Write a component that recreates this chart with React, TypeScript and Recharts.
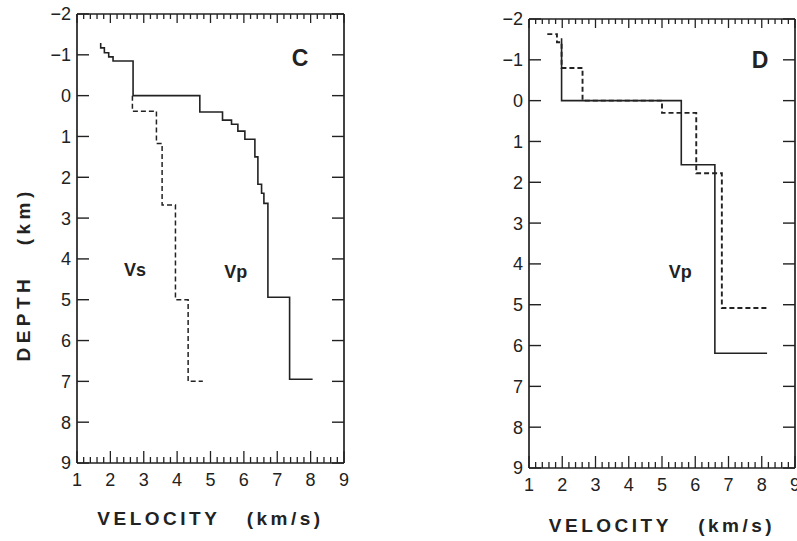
import React from 'react';
import { LineChart, Line, XAxis, YAxis, ReferenceDot } from 'recharts';

// ---- Panel C: layer boundaries (depth, km) and layer velocities (km/s) ----
const cVpBounds = [-1.29, -1.17, -1.05, -0.95, -0.85, 0, 0.4, 0.6, 0.7, 0.87, 1.07, 1.5, 2.17, 2.39, 2.64, 4.94, 6.95];
const cVpVel = [1.71, 1.82, 1.95, 2.08, 2.68, 4.68, 5.36, 5.63, 5.82, 6.03, 6.33, 6.42, 6.53, 6.6, 6.72, 7.37];
const cVpEnd = 8.06;

const cVsBounds = [0, 0.38, 1.17, 2.68, 5.0, 7.0];
const cVsVel = [2.66, 3.38, 3.55, 3.95, 4.33];
const cVsEnd = 4.77;

// ---- Panel D ----
const dSolidBounds = [-1.53, 0, 1.57, 6.19];
const dSolidVel = [1.98, 5.58, 6.59];
const dSolidEnd = 8.16;

const dDashBounds = [-1.63, -1.63, -1.43, -0.8, 0.0, 0.3, 1.78, 5.08];
const dDashVel = [1.55, 1.84, 1.98, 2.61, 5.0, 6.03, 6.8];
const dDashEnd = 8.16;

// ---- Axes ----
const xDomain = [1, 9];
const yDomain = [-2, 9];
const yTicks = [-2, -1, 0, 1, 2, 3, 4, 5, 6, 7, 8, 9];
const xTicks: number[] = [];
for (let i = 0; i <= 40; i++) xTicks.push(Math.round((1 + i * 0.2) * 10) / 10);

const xTitle = 'VELOCITY\u00A0\u00A0\u00A0(km/s)';
const yTitle = 'DEPTH\u00A0\u00A0\u00A0(km)';

const INK = '#222222';
const FONT = '"Liberation Sans", Arial, Helvetica, sans-serif';

function profile(bounds: number[], vel: number[], endV: number) {
  const pts: { v: number; d: number }[] = [];
  vel.forEach((v, i) => {
    pts.push({ v, d: bounds[i] });
    pts.push({ v, d: bounds[i + 1] });
  });
  pts.push({ v: endV, d: bounds[bounds.length - 1] });
  return pts;
}

const isMajor = (v: number) => Math.abs(v - Math.round(v)) < 1e-6;

const BottomTick = (p: any) => {
  const { x, y, payload } = p;
  const v = payload.value;
  const major = isMajor(v);
  return (
    <g>
      <line x1={x} x2={x} y1={y} y2={y - (major ? 12 : 6)} stroke={INK} strokeWidth={1.3} />
      {major && (
        <text x={x} y={y + 23} textAnchor="middle" fontSize={18} fill={INK} fontFamily={FONT}>
          {Math.round(v)}
        </text>
      )}
    </g>
  );
};

const TopTick = (p: any) => {
  const { x, y, payload } = p;
  const major = isMajor(payload.value);
  return <line x1={x} x2={x} y1={y} y2={y + (major ? 9 : 5)} stroke={INK} strokeWidth={1.3} />;
};

const LeftTick = (p: any) => {
  const { x, y, payload } = p;
  const v = payload.value;
  return (
    <g>
      <line x1={x} x2={x + 12} y1={y} y2={y} stroke={INK} strokeWidth={1.4} />
      <text x={x - 6} y={y} dy="0.36em" textAnchor="end" fontSize={18} fill={INK} fontFamily={FONT}>
        {v < 0 ? '\u2212' + Math.abs(v) : String(v)}
      </text>
    </g>
  );
};

const RightTick = (p: any) => {
  const { x, y } = p;
  return <line x1={x} x2={x - 12} y1={y} y2={y} stroke={INK} strokeWidth={1.4} />;
};

type Series = { pts: { v: number; d: number }[]; dashed: boolean; width: number };
type Note = { v: number; d: number; text: string; size: number };

function Panel(props: {
  width: number;
  margin: { top: number; right: number; bottom: number; left: number };
  series: Series[];
  notes: Note[];
  xTitleOffset: number;
  showYTitle: boolean;
}) {
  const { width, margin, series, notes, xTitleOffset, showYTitle } = props;
  return (
    <LineChart width={width} height={541} margin={margin}>
      <XAxis
        dataKey="v"
        type="number"
        domain={xDomain}
        ticks={xTicks}
        interval={0}
        allowDataOverflow
        height={1}
        tickSize={0}
        tickMargin={0}
        tick={BottomTick}
        axisLine={{ stroke: INK, strokeWidth: 1.7 }}
        tickLine={false}
        label={{
          value: xTitle,
          position: 'bottom',
          offset: xTitleOffset,
          fontSize: 19,
          fontWeight: 'bold',
          letterSpacing: 3.5,
          fill: INK,
          fontFamily: FONT,
        }}
      />
      <XAxis
        xAxisId="top"
        orientation="top"
        dataKey="v"
        type="number"
        domain={xDomain}
        ticks={xTicks}
        interval={0}
        allowDataOverflow
        height={1}
        tickSize={0}
        tickMargin={0}
        tick={TopTick}
        axisLine={{ stroke: INK, strokeWidth: 1.7 }}
        tickLine={false}
      />
      <YAxis
        type="number"
        domain={yDomain}
        ticks={yTicks}
        interval={0}
        reversed
        allowDataOverflow
        width={1}
        tickSize={0}
        tickMargin={0}
        tick={LeftTick}
        axisLine={{ stroke: INK, strokeWidth: 1.7 }}
        tickLine={false}
        label={
          showYTitle
            ? (lp: any) => {
                const vb = lp.viewBox || { x: 76, y: 14, width: 1, height: 449 };
                const cx = vb.x - 53;
                const cy = vb.y + vb.height * 0.58;
                return (
                  <text
                    x={cx}
                    y={cy}
                    transform={`rotate(-90 ${cx} ${cy})`}
                    textAnchor="middle"
                    dy="0.36em"
                    fontSize={19}
                    fontWeight="bold"
                    letterSpacing={4.5}
                    fill={INK}
                    fontFamily={FONT}
                  >
                    {yTitle}
                  </text>
                );
              }
            : undefined
        }
      />
      <YAxis
        yAxisId="right"
        orientation="right"
        type="number"
        domain={yDomain}
        ticks={yTicks}
        interval={0}
        reversed
        allowDataOverflow
        width={1}
        tickSize={0}
        tickMargin={0}
        tick={RightTick}
        axisLine={{ stroke: INK, strokeWidth: 1.7 }}
        tickLine={false}
      />
      {series.map((s, i) => (
        <Line
          key={i}
          data={s.pts}
          dataKey="d"
          type="linear"
          stroke={INK}
          strokeWidth={s.width}
          strokeDasharray={s.dashed ? '5 3' : undefined}
          dot={false}
          activeDot={false}
          isAnimationActive={false}
        />
      ))}
      {notes.map((n, i) => (
        <ReferenceDot
          key={'n' + i}
          x={n.v}
          y={n.d}
          r={0}
          fill="none"
          stroke="none"
          label={{
            value: n.text,
            position: 'center',
            fontSize: n.size,
            fontWeight: 'bold',
            fill: INK,
            fontFamily: FONT,
          }}
        />
      ))}
    </LineChart>
  );
}

export default function App() {
  const cSeries: Series[] = [
    { pts: profile(cVpBounds, cVpVel, cVpEnd), dashed: false, width: 1.6 },
    { pts: profile(cVsBounds, cVsVel, cVsEnd), dashed: true, width: 1.5 },
  ];
  const dSeries: Series[] = [
    { pts: profile(dSolidBounds, dSolidVel, dSolidEnd), dashed: false, width: 1.6 },
    { pts: profile(dDashBounds, dDashVel, dDashEnd), dashed: true, width: 1.9 },
  ];
  const cNotes: Note[] = [
    { v: 7.68, d: -0.93, text: 'C', size: 23 },
    { v: 2.74, d: 4.27, text: 'Vs', size: 18 },
    { v: 5.76, d: 4.3, text: 'Vp', size: 18 },
  ];
  const dNotes: Note[] = [
    { v: 7.95, d: -1.0, text: 'D', size: 23 },
    { v: 5.55, d: 4.2, text: 'Vp', size: 18 },
  ];
  return (
    <div style={{ position: 'absolute', left: 0, top: 0, width: 797, height: 541, background: '#fff', overflow: 'hidden' }}>
      <div style={{ position: 'absolute', left: 0, top: 0 }}>
        <Panel
          width={370}
          margin={{ top: 13, right: 25, bottom: 77, left: 76 }}
          series={cSeries}
          notes={cNotes}
          xTitleOffset={48}
          showYTitle
        />
      </div>
      <div style={{ position: 'absolute', left: 400, top: 0 }}>
        <Panel
          width={397}
          margin={{ top: 18, right: 1, bottom: 72, left: 128 }}
          series={dSeries}
          notes={dNotes}
          xTitleOffset={50}
          showYTitle={false}
        />
      </div>
    </div>
  );
}
